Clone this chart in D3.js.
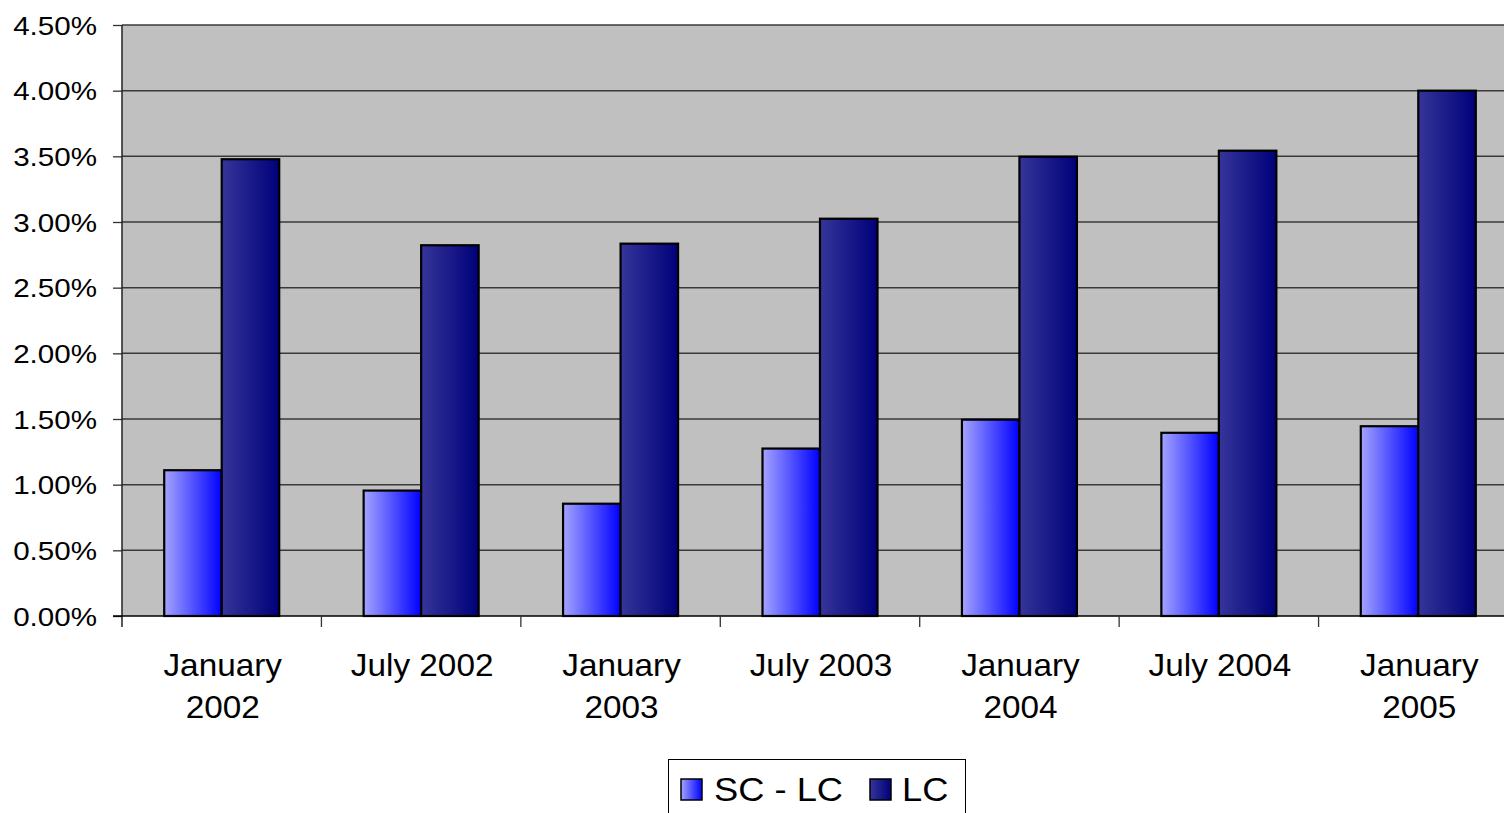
<!DOCTYPE html>
<html>
<head>
<meta charset="utf-8">
<script src="https://cdn.jsdelivr.net/npm/d3@7"></script>
<style>
  html, body { margin: 0; padding: 0; background: #ffffff; }
  svg { display: block; font-family: "Liberation Sans", Arial, Helvetica, sans-serif; }
</style>
</head>
<body>
<svg id="chart" width="1504" height="813"></svg>
<script>
// Period labels (each may wrap onto two lines)
const categories = [
  ["January", "2002"],
  ["July 2002"],
  ["January", "2003"],
  ["July 2003"],
  ["January", "2004"],
  ["July 2004"],
  ["January", "2005"]
];
const seriesNames = ["SC - LC", "LC"];
// Values in percent
const scMinusLc = [1.11, 0.955, 0.855, 1.275, 1.495, 1.395, 1.445];
const lc = [3.478, 2.823, 2.835, 3.025, 3.497, 3.543, 4.00];
const yTicks = [0, 0.5, 1.0, 1.5, 2.0, 2.5, 3.0, 3.5, 4.0, 4.5];

const svg = d3.select("#chart");
const plot = { left: 122, top: 25, right: 1518, bottom: 616 };

const defs = svg.append("defs");
function hGrad(id, from, to) {
  const g = defs.append("linearGradient").attr("id", id)
    .attr("x1", "0%").attr("x2", "100%").attr("y1", "0%").attr("y2", "0%");
  g.append("stop").attr("offset", "0%").attr("stop-color", from);
  g.append("stop").attr("offset", "100%").attr("stop-color", to);
}
hGrad("gradSC", "#a4a4ff", "#0000ff");
hGrad("gradLC", "#353599", "#00007a");
const fills = ["url(#gradSC)", "url(#gradLC)"];

const keys = categories.map((c, i) => i);
const x0 = d3.scaleBand().domain(keys).range([plot.left, plot.right]).padding(0);
const groupW = 115;
const x1 = d3.scaleBand().domain(seriesNames).range([0, groupW]).padding(0);
const y = d3.scaleLinear().domain([0, 4.5]).range([plot.bottom, plot.top]);

// Plot area background
svg.append("rect")
  .attr("x", plot.left).attr("y", plot.top)
  .attr("width", plot.right - plot.left).attr("height", plot.bottom - plot.top)
  .attr("fill", "#c0c0c0");

// Horizontal gridlines
svg.append("g").selectAll("line").data(yTicks.filter(d => d > 0)).join("line")
  .attr("x1", plot.left).attr("x2", plot.right)
  .attr("y1", d => y(d)).attr("y2", d => y(d))
  .attr("stroke", "#3a3a3a").attr("stroke-width", 1.5);

// Bars
const series = [scMinusLc, lc];
const groups = svg.append("g").selectAll("g").data(keys).join("g")
  .attr("transform", d => `translate(${x0(d) + (x0.bandwidth() - groupW) / 2},0)`);
groups.selectAll("rect").data(i => seriesNames.map((s, k) => ({ k, s, v: series[k][i] }))).join("rect")
  .attr("x", d => x1(d.s))
  .attr("y", d => y(d.v))
  .attr("width", x1.bandwidth())
  .attr("height", d => y(0) - y(d.v))
  .attr("fill", d => fills[d.k])
  .attr("stroke", "#000").attr("stroke-width", 2.2);

// Y axis
const yAxis = d3.axisLeft(y).tickValues(yTicks).tickSize(9).tickPadding(0)
  .tickFormat(d => d.toFixed(2) + "%");
const gy = svg.append("g").attr("transform", `translate(${plot.left},0)`).call(yAxis);
gy.select(".domain").remove();
gy.selectAll(".tick line").attr("stroke", "#333").attr("stroke-width", 1.3);
gy.selectAll(".tick text").remove();
gy.selectAll(".tick").append("text")
  .attr("fill", "#000")
  .attr("text-anchor", "end")
  .attr("dy", "0.36em")
  .attr("transform", "translate(-25,0) scale(1.16,1)")
  .style("font-size", "25.5px")
  .text(d => d.toFixed(2) + "%");

// Vertical axis line
svg.append("line")
  .attr("x1", plot.left).attr("x2", plot.left)
  .attr("y1", plot.top).attr("y2", plot.bottom + 11)
  .attr("stroke", "#222").attr("stroke-width", 1.5);

// X axis baseline and boundary ticks
svg.append("line")
  .attr("x1", plot.left - 9).attr("x2", plot.right)
  .attr("y1", plot.bottom).attr("y2", plot.bottom)
  .attr("stroke", "#000").attr("stroke-width", 1.5);
svg.append("g").selectAll("line").data(keys.slice(1)).join("line")
  .attr("x1", d => x0(d)).attr("x2", d => x0(d))
  .attr("y1", plot.bottom).attr("y2", plot.bottom + 11)
  .attr("stroke", "#333").attr("stroke-width", 1.3);

// Category labels
const lab = svg.append("g").selectAll("g").data(keys).join("g")
  .attr("transform", d => `translate(${x0(d) + x0.bandwidth() / 2 + 1},676) scale(1.075,1)`);
lab.selectAll("text").data(i => categories[i]).join("text")
  .attr("y", (d, j) => j * 42)
  .attr("text-anchor", "middle")
  .attr("fill", "#000")
  .style("font-size", "31px")
  .text(d => d);

// Legend
const legend = svg.append("g");
legend.append("rect")
  .attr("x", 668.5).attr("y", 759.5).attr("width", 297).attr("height", 60)
  .attr("fill", "#fff").attr("stroke", "#000").attr("stroke-width", 1);
const legendItems = [
  { name: seriesNames[0], fill: fills[0], sx: 681, tx: 714 },
  { name: seriesNames[1], fill: fills[1], sx: 870, tx: 902 }
];
legendItems.forEach(it => {
  legend.append("rect")
    .attr("x", it.sx).attr("y", 779).attr("width", 21).attr("height", 21)
    .attr("fill", it.fill).attr("stroke", "#000").attr("stroke-width", 1.5);
  legend.append("text")
    .attr("transform", `translate(${it.tx},801) scale(1.1,1)`)
    .attr("fill", "#000")
    .style("font-size", "33px")
    .text(it.name);
});
</script>
</body>
</html>
